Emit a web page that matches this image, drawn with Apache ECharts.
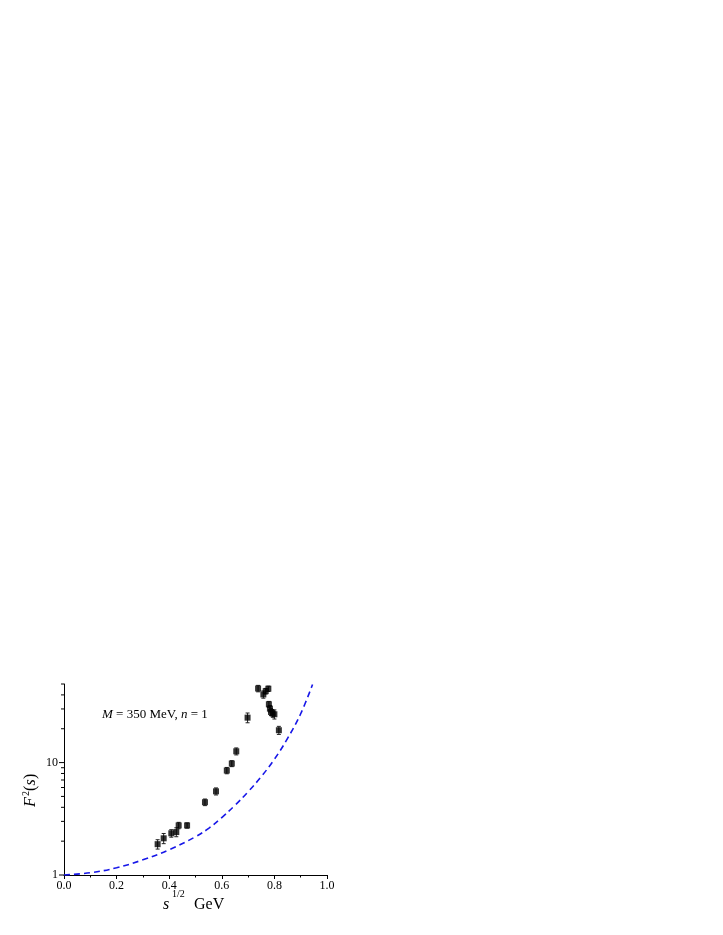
<!DOCTYPE html>
<html>
<head>
<meta charset="utf-8">
<script src="https://cdn.jsdelivr.net/npm/echarts@6/dist/echarts.min.js"></script>
<style>
  html, body { margin: 0; padding: 0; background: #fff; }
  #chart { width: 723px; height: 935px; }
</style>
</head>
<body>
<div id="chart"></div>
<script>
// measured points (s^1/2 in GeV, F^2)
const pointX = [0.356, 0.379, 0.408, 0.427, 0.436, 0.468, 0.536, 0.578, 0.619, 0.638, 0.655, 0.698,
                0.738, 0.758, 0.767, 0.777, 0.779, 0.783, 0.787, 0.794, 0.80, 0.817]
const pointY = [1.88, 2.12, 2.35, 2.41, 2.76, 2.76, 4.44, 5.55, 8.5, 9.8, 12.6, 25.1,
                45.6, 40.4, 43.2, 45.4, 33.0, 30.2, 28.2, 27.3, 26.9, 19.4]
const pointErr = [0.18, 0.22, 0.18, 0.22, 0.18, 0.15, 0.3, 0.4, 0.55, 0.6, 0.9, 2.5,
                  3.0, 3.0, 2.5, 2.5, 2.0, 2.0, 2.0, 2.0, 2.5, 1.6]

// model curve (dashed)
const curveX = [0, 0.1, 0.2, 0.3, 0.4, 0.5, 0.55, 0.6, 0.65, 0.7, 0.75, 0.8, 0.85, 0.9, 0.945]
const curveY = [1.0, 1.047, 1.16, 1.365, 1.68, 2.19, 2.6, 3.24, 4.17, 5.5, 7.5, 10.7, 16.4, 27.2, 49.5]

// y axis ticks (log scale)
const yMajorTicks = [1, 10]
const yMinorTicks = [2, 3, 4, 5, 6, 7, 8, 9, 20, 30, 40, 50]

const serif = '"Liberation Serif", "DejaVu Serif", serif'

const chart = echarts.init(document.getElementById('chart'))

const tickData = yMajorTicks.map(v => [v, 5]).concat(yMinorTicks.map(v => [v, 3]))

const option = {
  animation: false,
  grid: { left: 64, right: 396, top: 684, bottom: 60 },
  xAxis: {
    type: 'value',
    min: 0,
    max: 1,
    interval: 0.2,
    splitLine: { show: false },
    axisLine: { lineStyle: { color: '#000', width: 1 } },
    axisTick: { length: 4, lineStyle: { color: '#000' } },
    minorTick: { show: true, splitNumber: 2, length: 2.5, lineStyle: { color: '#000' } },
    axisLabel: {
      color: '#000',
      fontFamily: serif,
      fontSize: 12,
      margin: 5,
      formatter: v => v.toFixed(1)
    }
  },
  yAxis: {
    type: 'log',
    logBase: 10,
    min: 1,
    max: 50,
    splitLine: { show: false },
    axisLine: { show: true, lineStyle: { color: '#000', width: 1 } },
    axisTick: { show: false },
    axisLabel: {
      color: '#000',
      fontFamily: serif,
      fontSize: 12,
      margin: 6,
      showMaxLabel: false,
      formatter: v => (Math.abs(v - 1) < 1e-6 ? '1' : Math.abs(v - 10) < 1e-6 ? '10' : '')
    }
  },
  series: [
    {
      // y ticks drawn on the log scale
      type: 'custom',
      silent: true,
      clip: false,
      data: tickData,
      renderItem: (params, api) => {
        const p = api.coord([0, api.value(0)])
        const len = api.value(1)
        return {
          type: 'line',
          shape: { x1: p[0] - len, y1: p[1], x2: p[0], y2: p[1] },
          style: { stroke: '#000', lineWidth: 1 }
        }
      },
      encode: { x: null, y: 0 }
    },
    {
      type: 'line',
      data: curveX.map((x, i) => [x, curveY[i]]),
      smooth: 0.4,
      showSymbol: false,
      lineStyle: { color: '#1717e8', width: 1.6, type: [6, 4] },
      z: 2
    },
    {
      // error bars
      type: 'custom',
      silent: true,
      data: pointX.map((x, i) => [x, pointY[i] - pointErr[i], pointY[i] + pointErr[i]]),
      renderItem: (params, api) => {
        const x = api.value(0)
        const lo = api.coord([x, api.value(1)])
        const hi = api.coord([x, api.value(2)])
        const w = 2
        const style = { stroke: '#222', lineWidth: 1 }
        return {
          type: 'group',
          children: [
            { type: 'line', shape: { x1: lo[0], y1: lo[1], x2: hi[0], y2: hi[1] }, style },
            { type: 'line', shape: { x1: lo[0] - w, y1: lo[1], x2: lo[0] + w, y2: lo[1] }, style },
            { type: 'line', shape: { x1: hi[0] - w, y1: hi[1], x2: hi[0] + w, y2: hi[1] }, style }
          ]
        }
      },
      encode: { x: 0, y: [1, 2] },
      z: 3
    },
    {
      type: 'scatter',
      data: pointX.map((x, i) => [x, pointY[i]]),
      symbol: 'rect',
      symbolSize: 6,
      itemStyle: { color: '#000' },
      z: 4
    }
  ],
  graphic: [
    {
      type: 'text',
      left: 102,
      top: 708,
      style: {
        text: '{i|M} = 350 MeV, {i|n} = 1',
        font: '13px ' + serif,
        fill: '#000',
        rich: {
          i: { fontStyle: 'italic', fontFamily: serif, fontSize: 13 }
        }
      }
    },
    {
      // y axis title, rotated to read upwards
      type: 'group',
      x: 32,
      y: 791,
      rotation: Math.PI / 2,
      children: [
        { type: 'text', x: -16, y: 7, style: { text: 'F', font: 'italic 16px ' + serif, fill: '#000', verticalAlign: 'bottom' } },
        { type: 'text', x: -5, y: -1, style: { text: '2', font: '10px ' + serif, fill: '#000', verticalAlign: 'bottom' } },
        { type: 'text', x: 0, y: 7, style: { text: '(', font: '16px ' + serif, fill: '#000', verticalAlign: 'bottom' } },
        { type: 'text', x: 5.5, y: 7, style: { text: 's', font: 'italic 16px ' + serif, fill: '#000', verticalAlign: 'bottom' } },
        { type: 'text', x: 12, y: 7, style: { text: ')', font: '16px ' + serif, fill: '#000', verticalAlign: 'bottom' } }
      ]
    },
    {
      type: 'text',
      left: 163,
      top: 897,
      style: { text: 's', font: 'italic 16px ' + serif, fill: '#000' }
    },
    {
      type: 'text',
      left: 172,
      top: 889,
      style: { text: '1/2', font: '10px ' + serif, fill: '#000' }
    },
    {
      type: 'text',
      left: 194,
      top: 897,
      style: { text: 'GeV', font: '16px ' + serif, fill: '#000' }
    }
  ]
}

chart.setOption(option)
</script>
</body>
</html>
